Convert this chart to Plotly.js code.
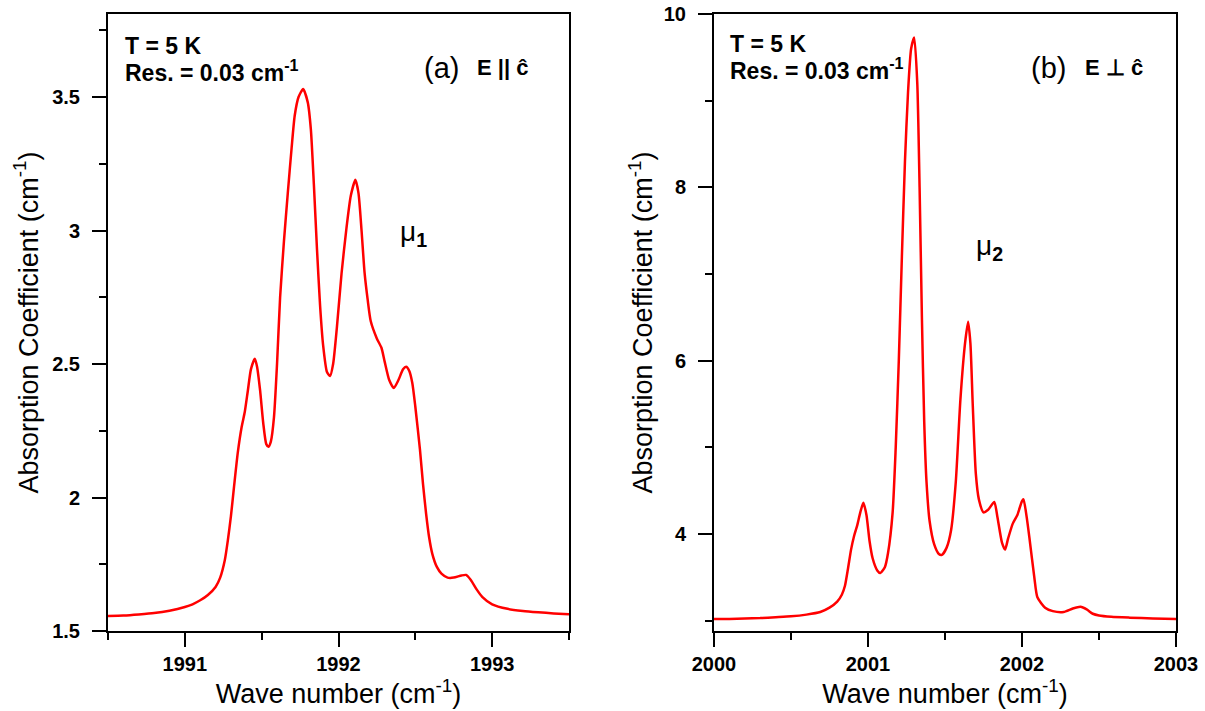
<!DOCTYPE html>
<html>
<head>
<meta charset="utf-8">
<script src="https://cdn.plot.ly/plotly-3.0.1.min.js"></script>
<style>html,body{margin:0;padding:0;background:#fff;}#chart{width:1205px;height:711px;}</style>
</head>
<body>
<div id="chart"></div>
<script>
// Panel (a): E || c, mu1 band
const waveA = [1990.50,1990.60,1990.70,1990.80,1990.90,1991.00,1991.05,1991.10,1991.15,1991.20,1991.23,1991.26,1991.28,1991.30,1991.32,1991.345,1991.37,1991.39,1991.41,1991.43,1991.455,1991.47,1991.49,1991.51,1991.53,1991.545,1991.56,1991.58,1991.60,1991.62,1991.645,1991.67,1991.695,1991.715,1991.74,1991.77,1991.80,1991.82,1991.84,1991.86,1991.88,1991.90,1991.925,1991.945,1991.965,1991.99,1992.02,1992.05,1992.08,1992.11,1992.13,1992.15,1992.17,1992.19,1992.21,1992.25,1992.28,1992.30,1992.33,1992.36,1992.39,1992.42,1992.44,1992.46,1992.48,1992.50,1992.53,1992.55,1992.57,1992.59,1992.61,1992.64,1992.67,1992.71,1992.75,1992.80,1992.83,1992.86,1992.90,1992.935,1993.00,1993.10,1993.20,1993.30,1993.40,1993.50];
const absA = [1.556,1.558,1.562,1.567,1.576,1.590,1.600,1.615,1.635,1.665,1.700,1.765,1.840,1.930,2.040,2.170,2.265,2.320,2.400,2.480,2.520,2.490,2.400,2.280,2.200,2.190,2.210,2.300,2.500,2.750,2.960,3.140,3.310,3.430,3.500,3.530,3.480,3.380,3.170,2.930,2.720,2.570,2.470,2.455,2.500,2.640,2.840,3.000,3.130,3.190,3.140,3.000,2.840,2.740,2.660,2.595,2.560,2.510,2.440,2.410,2.440,2.480,2.490,2.475,2.430,2.340,2.180,2.050,1.940,1.850,1.790,1.740,1.715,1.700,1.700,1.708,1.710,1.692,1.655,1.628,1.600,1.583,1.575,1.570,1.566,1.563];

// Panel (b): E perp c, mu2 band
const waveB = [2000.00,2000.10,2000.20,2000.30,2000.40,2000.50,2000.60,2000.69,2000.75,2000.80,2000.83,2000.85,2000.87,2000.89,2000.91,2000.93,2000.95,2000.97,2000.99,2001.01,2001.03,2001.06,2001.08,2001.11,2001.13,2001.16,2001.18,2001.20,2001.22,2001.24,2001.26,2001.28,2001.30,2001.32,2001.335,2001.35,2001.365,2001.38,2001.40,2001.43,2001.46,2001.48,2001.51,2001.54,2001.57,2001.60,2001.63,2001.65,2001.665,2001.68,2001.70,2001.72,2001.75,2001.78,2001.82,2001.84,2001.87,2001.89,2001.91,2001.94,2001.97,2002.00,2002.01,2002.03,2002.05,2002.08,2002.10,2002.15,2002.20,2002.27,2002.33,2002.38,2002.42,2002.46,2002.50,2002.58,2002.70,2002.85,2003.00];
const absB = [3.02,3.02,3.025,3.03,3.04,3.05,3.07,3.10,3.15,3.22,3.30,3.40,3.60,3.82,3.98,4.10,4.25,4.36,4.22,3.92,3.72,3.58,3.55,3.62,3.78,4.25,5.00,6.00,7.20,8.30,9.10,9.60,9.73,9.20,8.00,6.50,5.30,4.60,4.15,3.88,3.77,3.76,3.84,4.05,4.60,5.55,6.20,6.45,6.20,5.50,4.70,4.40,4.25,4.28,4.37,4.20,3.90,3.82,3.95,4.12,4.22,4.38,4.40,4.20,3.93,3.50,3.27,3.15,3.11,3.10,3.14,3.16,3.13,3.08,3.06,3.045,3.035,3.025,3.02];

const xTicksA = [1991, 1992, 1993];
const yTicksA = [1.5, 2, 2.5, 3, 3.5];
const xTicksB = [2000, 2001, 2002, 2003];
const yTicksB = [4, 6, 8, 10];

const W = 1205, H = 711;
const px = v => v / W;
const py = v => 1 - v / H;
const bold = arr => arr.map(v => '<b>' + v + '</b>');

const FONT = 'Liberation Sans, Arial, Helvetica, sans-serif';
const lineStyle = {color: '#ff0000', width: 2.5, shape: 'spline', smoothing: 0.6};

const traces = [
  {x: waveA, y: absA, type: 'scatter', mode: 'lines', line: lineStyle, xaxis: 'x', yaxis: 'y', hoverinfo: 'skip'},
  {x: waveB, y: absB, type: 'scatter', mode: 'lines', line: lineStyle, xaxis: 'x2', yaxis: 'y2', hoverinfo: 'skip'}
];

const axBase = {
  showgrid: false, zeroline: false, showline: true, mirror: true,
  linecolor: '#000', linewidth: 2,
  ticks: 'outside', ticklen: 14, tickwidth: 2, tickcolor: '#000',
  tickfont: {family: FONT, size: 20, color: '#000'},
  fixedrange: true
};
const xTitle = {text: 'Wave number (cm<sup>-1</sup>)', font: {family: FONT, size: 27, color: '#000'}, standoff: 8};
const yTitleA = {text: 'Absorption Coefficient (cm<sup>-1</sup>)', font: {family: FONT, size: 27, color: '#000'}, standoff: 6};
const yTitleB = {text: 'Absorption Coefficient (cm<sup>-1</sup>)', font: {family: FONT, size: 27, color: '#000'}, standoff: 3};

const layout = {
  width: W, height: H,
  margin: {l: 0, r: 0, t: 0, b: 0},
  paper_bgcolor: '#fff', plot_bgcolor: '#fff',
  showlegend: false,
  xaxis: Object.assign({}, axBase, {
    domain: [px(108), px(569)], range: [1990.5, 1993.5], anchor: 'y',
    tickmode: 'array', tickvals: xTicksA, ticktext: bold(xTicksA),
    minor: {dtick: 0.5, tick0: 1990.5, ticklen: 7, tickwidth: 2, tickcolor: '#000', ticks: 'outside'},
    title: xTitle
  }),
  yaxis: Object.assign({}, axBase, {
    domain: [1 - 631 / H, 1 - 14 / H], range: [1.5, 3.811], anchor: 'x',
    tickmode: 'array', tickvals: yTicksA, ticktext: bold(yTicksA),
    minor: {dtick: 0.25, tick0: 1.5, ticklen: 7, tickwidth: 2, tickcolor: '#000', ticks: 'outside'},
    ticklabelstandoff: 8,
    title: yTitleA
  }),
  xaxis2: Object.assign({}, axBase, {
    domain: [px(714), px(1176)], range: [2000, 2003], anchor: 'y2',
    tickmode: 'array', tickvals: xTicksB, ticktext: bold(xTicksB),
    minor: {dtick: 0.5, tick0: 2000, ticklen: 7, tickwidth: 2, tickcolor: '#000', ticks: 'outside'},
    title: xTitle
  }),
  yaxis2: Object.assign({}, axBase, {
    domain: [1 - 631 / H, 1 - 14 / H], range: [2.881, 10], anchor: 'x2',
    tickmode: 'array', tickvals: yTicksB, ticktext: bold(yTicksB),
    minor: {dtick: 1, tick0: 0, ticklen: 7, tickwidth: 2, tickcolor: '#000', ticks: 'outside'},
    ticklabelstandoff: 8,
    title: yTitleB
  }),
  annotations: [
    {xref: 'paper', yref: 'paper', x: px(123), y: py(46), xanchor: 'left', yanchor: 'middle', showarrow: false,
     text: '<b>T = 5 K</b>', font: {family: FONT, size: 23, color: '#000'}},
    {xref: 'paper', yref: 'paper', x: px(123), y: py(71), xanchor: 'left', yanchor: 'middle', showarrow: false,
     text: '<b>Res. = 0.03 cm<sup>-1</sup></b>', font: {family: FONT, size: 23, color: '#000'}},
    {xref: 'paper', yref: 'paper', x: px(422), y: py(68), xanchor: 'left', yanchor: 'middle', showarrow: false,
     text: '(a)', font: {family: FONT, size: 29, color: '#000'}},
    {xref: 'paper', yref: 'paper', x: px(475), y: py(68), xanchor: 'left', yanchor: 'middle', showarrow: false,
     text: '<b>E || ĉ</b>', font: {family: FONT, size: 22, color: '#000'}},
    {xref: 'paper', yref: 'paper', x: px(398), y: py(234), xanchor: 'left', yanchor: 'middle', showarrow: false,
     text: 'μ<sub><b>1</b></sub>', font: {family: FONT, size: 28, color: '#000'}},

    {xref: 'paper', yref: 'paper', x: px(728), y: py(44), xanchor: 'left', yanchor: 'middle', showarrow: false,
     text: '<b>T = 5 K</b>', font: {family: FONT, size: 23, color: '#000'}},
    {xref: 'paper', yref: 'paper', x: px(728), y: py(69), xanchor: 'left', yanchor: 'middle', showarrow: false,
     text: '<b>Res. = 0.03 cm<sup>-1</sup></b>', font: {family: FONT, size: 23, color: '#000'}},
    {xref: 'paper', yref: 'paper', x: px(1029), y: py(68), xanchor: 'left', yanchor: 'middle', showarrow: false,
     text: '(b)', font: {family: FONT, size: 29, color: '#000'}},
    {xref: 'paper', yref: 'paper', x: px(1083), y: py(68), xanchor: 'left', yanchor: 'middle', showarrow: false,
     text: '<b>E ⊥ ĉ</b>', font: {family: FONT, size: 22, color: '#000'}},
    {xref: 'paper', yref: 'paper', x: px(974), y: py(247), xanchor: 'left', yanchor: 'middle', showarrow: false,
     text: 'μ<sub><b>2</b></sub>', font: {family: FONT, size: 28, color: '#000'}}
  ]
};

Plotly.newPlot('chart', traces, layout, {staticPlot: true, displayModeBar: false});
</script>
</body>
</html>
